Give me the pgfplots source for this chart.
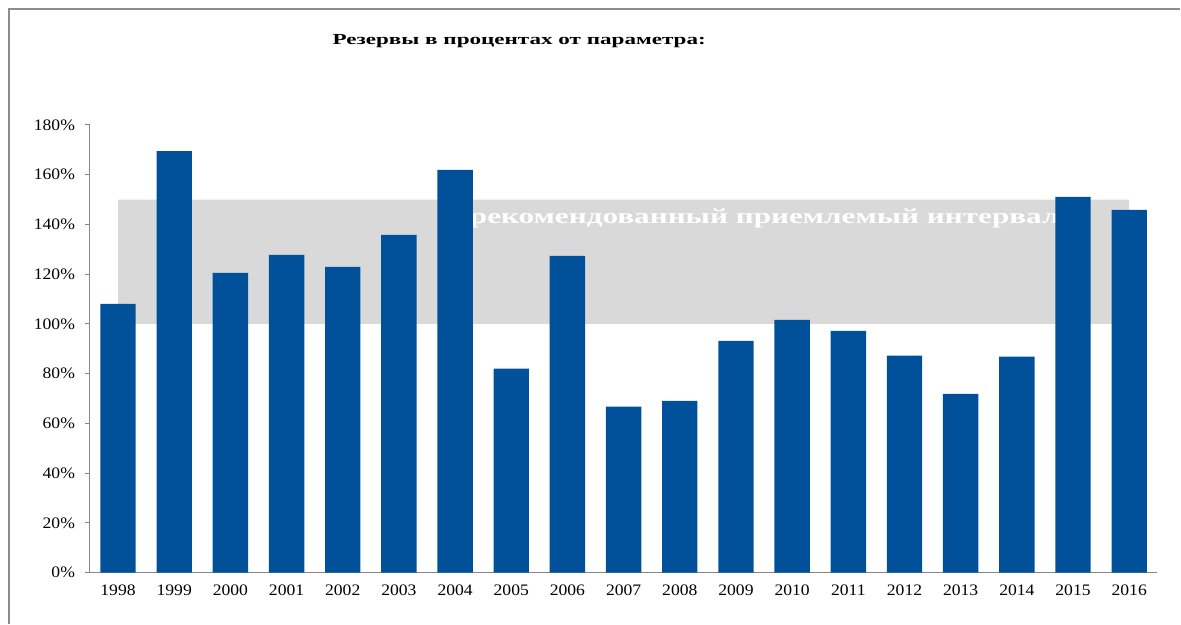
\documentclass[border=0pt]{standalone}
\usepackage{graphicx}
\usepackage{pgfplots}
\pgfplotsset{compat=1.18}
\usepackage{fontspec}
\setmainfont{Liberation Serif}[FakeStretch=1.1]

\definecolor{barblue}{RGB}{0,81,154}
\definecolor{bandgray}{RGB}{217,217,217}
\definecolor{axisgray}{RGB}{134,134,134}
\definecolor{framegray}{RGB}{140,140,140}

\begin{document}
\begin{tikzpicture}
% picture bounds: 1181 x 624 px at 0.75pt per px
\path (0,0) rectangle (885.75pt,468pt);
\draw[framegray, line width=1.1pt] (6.75pt,0) -- (6.75pt,461.25pt) -- (885.75pt,461.25pt);
\node[font=\fontsize{11.5}{13}\selectfont\bfseries] at (389.6pt,437pt)
  {\scalebox{1.37}[1]{Резервы в процентах от параметра:}};

\begin{axis}[
  at={(67.5pt,38.25pt)}, anchor=south west,
  scale only axis, width=801pt, height=336pt,
  xmin=-0.5, xmax=18.5, ymin=0, ymax=180,
  axis x line*=bottom, axis y line*=left,
  axis line style={axisgray, line width=0.8pt},
  tick align=outside,
  major tick length=3.75pt, minor tick length=3.75pt,
  xtick={0,...,18},
  xticklabels={1998,1999,2000,2001,2002,2003,2004,2005,2006,2007,2008,2009,2010,2011,2012,2013,2014,2015,2016},
  minor xtick={-0.5,0.5,...,18.5},
  xtick style={draw=none},
  minor tick style={axisgray, line width=0.8pt},
  ytick={0,20,...,180},
  ytick style={axisgray, line width=0.8pt},
  yticklabel={\pgfmathprintnumber{\tick}\%},
  /pgf/number format/assume math mode=true,
  tick label style={font=\fontsize{12}{14}\selectfont},
  yticklabel style={xshift=-4pt},
  xticklabel style={yshift=-2pt},
  clip=false,
]
% recommended interval band
\addplot[draw=none, fill=bandgray] coordinates {(0,100) (0,150) (18,150) (18,100) (0,100)};
\node[anchor=west, text=white, font=\fontsize{16}{18}\selectfont\bfseries, inner sep=0pt]
  at (axis cs:6.26,142.6) {\scalebox{1.33}[1]{рекомендованный приемлемый интервал}};
\addplot[ybar, bar width=0.63, fill=barblue, draw=none] coordinates {
  (0,108.1) (1,169.5) (2,120.5) (3,127.8) (4,122.9) (5,135.8) (6,161.9)
  (7,82.0) (8,127.4) (9,66.7) (10,69.1) (11,93.2) (12,101.6) (13,97.2)
  (14,87.2) (15,71.9) (16,86.8) (17,151.1) (18,145.8)};
\end{axis}
\end{tikzpicture}
\end{document}
